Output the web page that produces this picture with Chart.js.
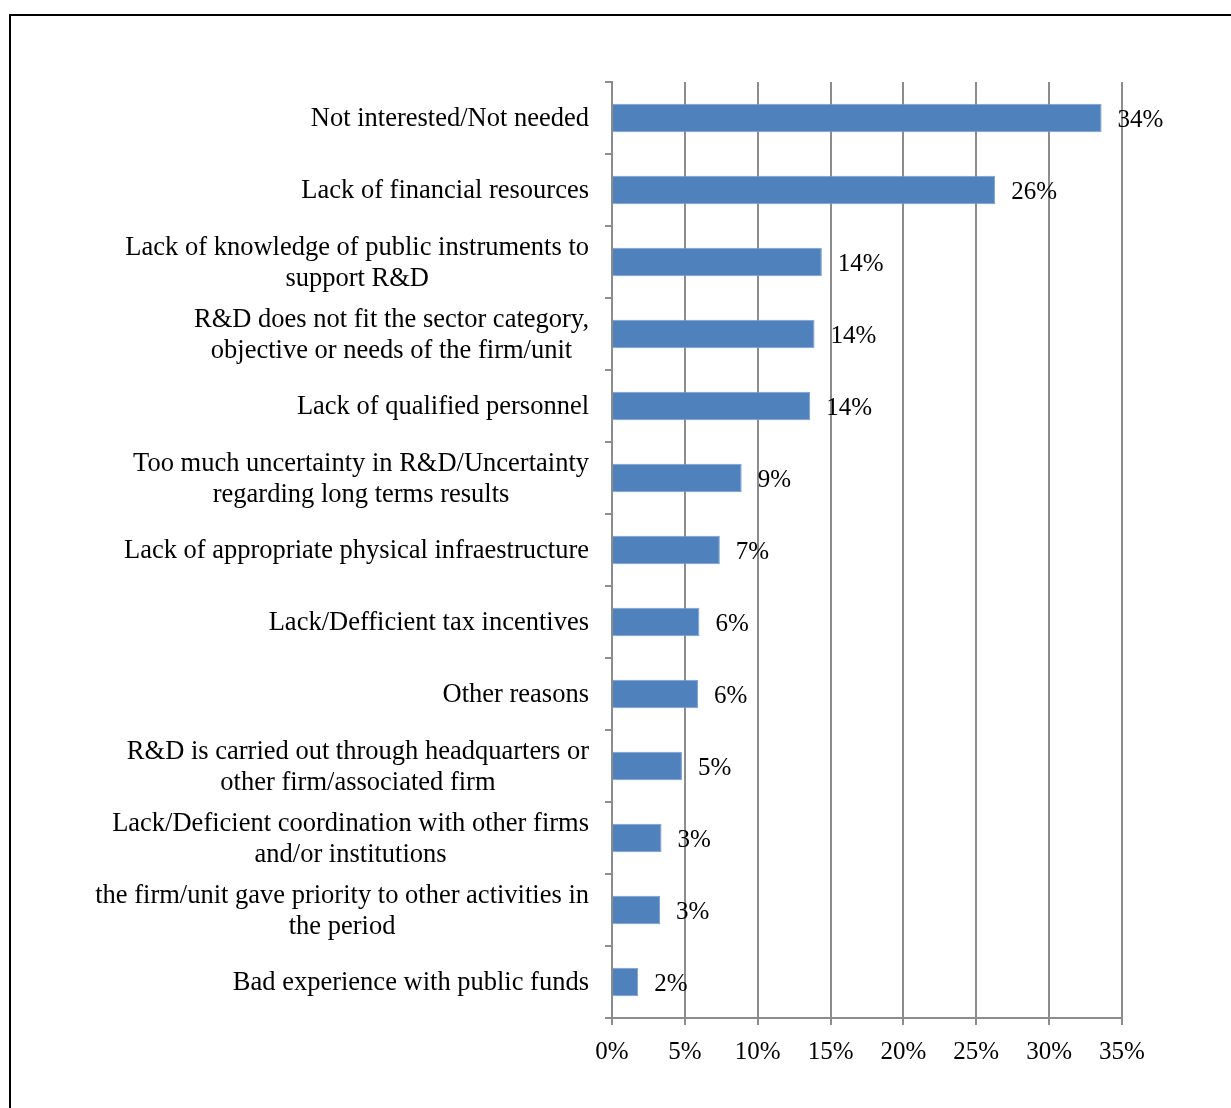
<!DOCTYPE html>
<html>
<head>
<meta charset="utf-8">
<script src="https://cdn.jsdelivr.net/npm/chart.js@4.4.0/dist/chart.umd.min.js"></script>
<style>
    html, body { margin: 0; padding: 0; background: #fff; overflow: hidden; }
    #frame {
        position: absolute; left: 9px; top: 14px;
        width: 1400px; height: 1300px;
        border: 2px solid #000;
    }
    #wrap { position: absolute; left: 0; top: 0; width: 1231px; height: 1108px; }
</style>
</head>
<body>
<div id="frame"></div>
<div id="wrap"><canvas id="reasonsChart"></canvas></div>
<script>
// Reasons for not doing R&D, share of firms (%)
const reasons = [
    ['Not interested/Not needed'],
    ['Lack of financial resources'],
    ['Lack of knowledge of public instruments to', 'support R&D'],
    ['R&D does not fit the sector category,', 'objective or needs of the firm/unit'],
    ['Lack of qualified personnel'],
    ['Too much uncertainty in R&D/Uncertainty', 'regarding long terms results'],
    ['Lack of appropriate physical infraestructure'],
    ['Lack/Defficient tax incentives'],
    ['Other reasons'],
    ['R&D is carried out through headquarters or', 'other firm/associated firm'],
    ['Lack/Deficient coordination with other firms', 'and/or institutions'],
    ['the firm/unit gave priority to other activities in', 'the period'],
    ['Bad experience with public funds']
];
const shares = [33.6, 26.3, 14.4, 13.9, 13.6, 8.9, 7.4, 6.0, 5.9, 4.8, 3.4, 3.3, 1.8];
const xTicks = [0, 5, 10, 15, 20, 25, 30, 35];

const SERIF = "'Liberation Serif', 'Times New Roman', serif";
const GRID = '#8c8c8c';

// category names: right-aligned block, lines centred inside it
const labelPlugin = {
    id: 'reasonLabels',
    afterDraw(chart) {
        const ctx = chart.ctx;
        const y = chart.scales.y;
        const x = chart.scales.x;
        const meta = chart.getDatasetMeta(0);
        ctx.save();
        ctx.font = '26.5px ' + SERIF;
        ctx.fillStyle = '#000';
        ctx.textBaseline = 'middle';
        ctx.textAlign = 'center';
        const right = chart.chartArea.left - 23;
        const lh = 31;
        reasons.forEach((lines, i) => {
            const cy = y.getPixelForValue(i) + 1.5;
            const w = Math.max(...lines.map(l => ctx.measureText(l).width));
            const cx = right - w / 2;
            const top = cy - (lines.length - 1) * lh / 2;
            lines.forEach((l, k) => ctx.fillText(l, cx, top + k * lh));
        });
        // value labels next to each bar
        ctx.font = '25px ' + SERIF;
        ctx.textAlign = 'left';
        meta.data.forEach((bar, i) => {
            ctx.fillText(Math.round(shares[i]) + '%', x.getPixelForValue(shares[i]) + 16, bar.y + 2);
        });
        ctx.restore();
    }
};

new Chart(document.getElementById('reasonsChart'), {
    type: 'bar',
    data: {
        labels: reasons,
        datasets: [{
            data: shares,
            backgroundColor: '#4F81BD',
            borderColor: '#7b9fcf',
            borderWidth: 1,
            barPercentage: 1,
            categoryPercentage: 0.394
        }]
    },
    options: {
        indexAxis: 'y',
        responsive: true,
        maintainAspectRatio: false,
        animation: false,
        layout: { padding: { left: 572, top: 82, right: 109, bottom: 30 } },
        plugins: {
            legend: { display: false },
            tooltip: { enabled: false }
        },
        scales: {
            x: {
                min: 0,
                max: 35,
                afterBuildTicks: scale => { scale.ticks = xTicks.map(v => ({ value: v })); },
                afterFit: scale => { scale.height = 60; },
                grid: { color: GRID, lineWidth: 2, tickLength: 7, drawTicks: true },
                border: { color: GRID, width: 2 },
                ticks: {
                    color: '#000',
                    font: { family: SERIF, size: 25 },
                    padding: 12,
                    callback: v => v + '%'
                }
            },
            y: {
                afterFit: scale => { scale.width = 40; },
                grid: { drawOnChartArea: false, color: GRID, lineWidth: 2, tickLength: 7, offset: true },
                border: { color: GRID, width: 2 },
                ticks: { display: false }
            }
        }
    },
    plugins: [labelPlugin]
});
</script>
</body>
</html>
